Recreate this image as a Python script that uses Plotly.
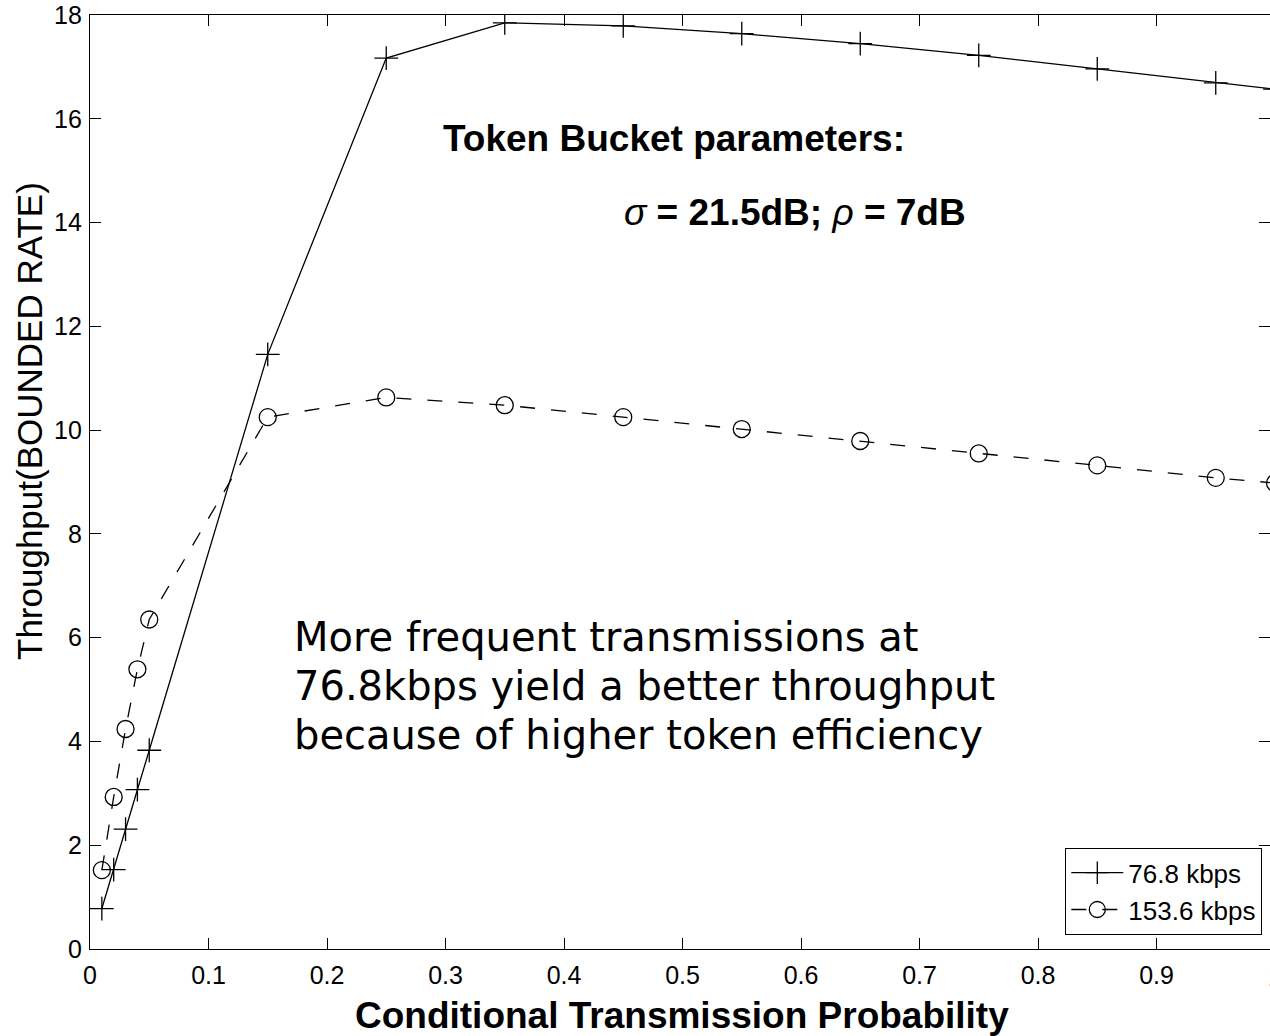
import plotly.graph_objects as go

# Conditional transmission probability (x) and bounded-rate throughput per link speed
prob = [0.01, 0.02, 0.03, 0.04, 0.05, 0.15, 0.25, 0.35, 0.45, 0.55, 0.65, 0.75, 0.85, 0.95, 1.0]
thr_76_8 = [0.78, 1.53, 2.31, 3.07, 3.83, 11.46, 17.17, 17.85, 17.79, 17.64, 17.45, 17.22, 16.96, 16.69, 16.57]
thr_153_6 = [1.52, 2.93, 4.24, 5.39, 6.35, 10.25, 10.63, 10.48, 10.25, 10.02, 9.79, 9.55, 9.32, 9.08, 8.98]

series_names = ["76.8 kbps", "153.6 kbps"]
x_ticks = [0, 0.1, 0.2, 0.3, 0.4, 0.5, 0.6, 0.7, 0.8, 0.9, 1]
x_tick_labels = ["0", "0.1", "0.2", "0.3", "0.4", "0.5", "0.6", "0.7", "0.8", "0.9", "1"]
y_ticks = [0, 2, 4, 6, 8, 10, 12, 14, 16, 18]

note_lines = [
    "More frequent transmissions at",
    "76.8kbps yield a better throughput",
    "because of higher token efficiency",
]

FONT = "Liberation Sans, Arial, sans-serif"
W, H = 1270, 1036
L, R, T, B = 90, 0, 15, 87
plot_w = W - L - R
plot_h = H - T - B
X_MAX = 1.0 * plot_w / 1185.0  # axis runs slightly past the right edge of the page
Y_PER_PX = 18.0 / plot_h


def y_at(px):
    """Data y for a vertical pixel position on the page."""
    return (H - B - px) * Y_PER_PX


fig = go.Figure()
fig.add_trace(go.Scatter(
    x=prob, y=thr_76_8, name=series_names[0], mode="lines+markers",
    line=dict(color="black", width=1.3),
    marker=dict(symbol="cross-thin-open", size=17, color="black", line=dict(color="black", width=1.3)),
))
fig.add_trace(go.Scatter(
    x=prob, y=thr_153_6, name=series_names[1], mode="lines+markers",
    line=dict(color="black", width=1.3, dash="15px,16px"),
    marker=dict(symbol="circle-open", size=17, color="black", line=dict(color="black", width=1.3)),
))

axis_common = dict(
    showline=True, linecolor="black", linewidth=1.4, mirror="ticks",
    ticks="inside", ticklen=11, tickwidth=1.2, tickcolor="black",
    showgrid=False, zeroline=False,
    tickfont=dict(family=FONT, size=25, color="black"),
)
fig.update_xaxes(range=[0, X_MAX], tickvals=x_ticks, ticktext=x_tick_labels,
                 ticklabelstandoff=4, **axis_common)
fig.update_yaxes(range=[0, 18], tickvals=y_ticks, ticklabelstandoff=2, **axis_common)

annotations = [
    dict(x=0.2962, y=y_at(138), xref="x", yref="y", xanchor="left", yanchor="middle",
         text="<b>Token Bucket parameters:</b>", showarrow=False,
         font=dict(family=FONT, size=37, color="black")),
    dict(x=0.449, y=y_at(212), xref="x", yref="y", xanchor="left", yanchor="middle",
         text="<i>σ</i><b> = 21.5dB; </b><i>ρ</i><b> = 7dB</b>", showarrow=False,
         font=dict(family=FONT, size=37, color="black")),
    # tick label for x = 1, sitting at the clipped right edge
    dict(x=1185.0 / plot_w, y=0, xref="paper", yref="paper", xanchor="center", yanchor="top", yshift=-12,
         text="1", showarrow=False, font=dict(family=FONT, size=25, color="black")),
    dict(x=(682 - L) / plot_w, y=-(1015 - (H - B)) / plot_h, xref="paper", yref="paper",
         xanchor="center", yanchor="middle", text="<b>Conditional Transmission Probability</b>",
         showarrow=False, font=dict(family=FONT, size=37, color="black")),
    dict(x=-(L - 30) / plot_w, y=(H - B - 421) / plot_h, xref="paper", yref="paper",
         xanchor="center", yanchor="middle", textangle=-90, text="Throughput(BOUNDED RATE)",
         showarrow=False, font=dict(family=FONT, size=35, color="black")),
]
# three-line note, one line every 49 px
for i, line in enumerate(note_lines):
    annotations.append(dict(
        x=0.1705, y=y_at(637 + 49 * i), xref="x", yref="y", xanchor="left", yanchor="middle",
        text=line, showarrow=False,
        font=dict(family="DejaVu Sans, sans-serif", size=40, color="black"),
    ))

fig.update_layout(
    width=W, height=H,
    margin=dict(l=L, r=R, t=T, b=B, pad=0),
    paper_bgcolor="white", plot_bgcolor="white",
    showlegend=True,
    legend=dict(
        x=(1262 - L) / plot_w, y=(949 - 935) / plot_h, xanchor="right", yanchor="bottom",
        bgcolor="white", bordercolor="black", borderwidth=1.3,
        font=dict(family=FONT, size=26, color="black"),
        tracegroupgap=0, itemwidth=52,
    ),
    annotations=annotations,
)

fig.write_html("out.html")
